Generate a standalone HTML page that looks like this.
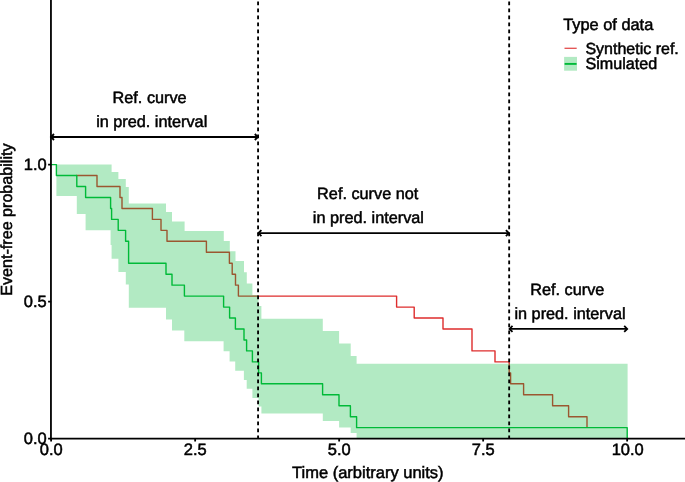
<!DOCTYPE html>
<html><head><meta charset="utf-8"><title>Chart</title>
<style>
html,body{margin:0;padding:0;background:#fff;}
svg{display:block;will-change:transform;}
svg{font-size:16px;}
text{font-family:"Liberation Sans",sans-serif;fill:#000;stroke:#000;stroke-width:0.5px;text-rendering:geometricPrecision;}
</style></head><body>
<svg width="685" height="482" viewBox="0 0 685 482">
<rect x="0" y="0" width="685" height="482" fill="#ffffff"/>
<!-- red reference curve -->
<path d="M76.2,175.56H97V186.52H120V197.48H122V208.44H152.4V219.4H161V230.36H167V241.32H206.4V252.28H229.4V263.24H232.2V274.2H235.5V285.16H238.4V296.12H396.6V307.08H414.2V318.04H443V329.0H472V350.92H495V361.88H509.2V372.84H510.6V383.8H523.6V394.76H552.6V405.72H568.6V416.68H587V427.64" fill="none" stroke="#DE2D2D" stroke-width="1.4" stroke-linejoin="round"/>
<!-- ribbon -->
<path d="M56.4,164.6H111.6V172H118.4V179H125.8V187H128.8V203.6H166V212H172V221.4H184.6V231H223.8V241H229.8V251.2H235.5V261H244V272.2H246.8V283.4H252.4V295H258.5V306H261.4V318.8H322.8V331H339.1V343.6H350.7V356H356.6V363.7H627.6V438.6H356.6V433H350.7V427.6H339.1V421H322.8V413.5H261.4V406.4H258.5V398H252.4V388.8H246.7V380H243.9V370.8H235.2V361.5H229.6V351.2H223.6V341.2H184.3V330.4H172V319.6H166V307.8H128.8V284.5H125.8V272.1H118.4V258.7H111.6V245H110.6V230.3H85.6V214.1H76.8V196.0H56.4Z" fill="#00BA38" fill-opacity="0.3" stroke="none"/>
<!-- green simulated curve -->
<path d="M51.2,164.6H56.4V175.56H76.8V186.52H85.6V197.48H110.6V208.44H111.6V219.4H118.2V230.36H125.6V241.32H128.6V263.24H166V274.2H172V285.16H184.4V296.12H223.6V307.08H229.6V318.04H235.4V329.0H244V339.96H246.6V350.92H252.4V361.88H258.6V372.84H261.4V383.8H322.6V394.76H339V405.72H350.4V416.68H356.6V427.64H627.2V438.6" fill="none" stroke="#00BA38" stroke-width="1.4" stroke-linejoin="round"/>
<!-- dashed verticals -->
<g stroke="#000" stroke-width="1.85" stroke-dasharray="3.8 3.2" fill="none">
<path d="M258.07,-5.55V438.6"/>
<path d="M509.16,-5.55V438.6"/>
</g>
<!-- arrows -->
<g stroke="#000" stroke-width="1.8" fill="none" stroke-linejoin="miter">
<path d="M51.0,137.0H257.8" /><path d="M54.0,134.0L51.0,137.0L54.0,140.0" /><path d="M254.8,134.0L257.8,137.0L254.8,140.0" />
<path d="M258.4,233.05H508.9" /><path d="M261.4,230.05L258.4,233.05L261.4,236.05" /><path d="M505.9,230.05L508.9,233.05L505.9,236.05" />
<path d="M509.5,328.9H627.2" /><path d="M512.5,325.9L509.5,328.9L512.5,331.9" /><path d="M624.2,325.9L627.2,328.9L624.2,331.9" />
</g>
<!-- axes -->
<g stroke="#000" stroke-width="1.8" fill="none">
<path d="M50.95,0V439.4"/>
<path d="M50.1,438.58H685" stroke-width="1.7"/>
<path d="M48.1,164.6H51.2M48.1,301.6H51.2M48.1,438.6H51.2"/>
<path d="M51.1,438.6V441.5M195.15,438.6V441.5M339.15,438.6V441.5M483.15,438.6V441.5M627.15,438.6V441.5"/>
</g>
<!-- tick labels -->
<g text-anchor="end" font-size="16.5">
<text x="46.8" y="170.3">1.0</text>
<text x="46.8" y="307.3">0.5</text>
<text x="46.8" y="444.3">0.0</text>
</g>
<g text-anchor="middle">
<text x="51.2" y="455.4" font-size="16.5">0.0</text>
<text x="195.2" y="455.4" font-size="16.5">2.5</text>
<text x="339.2" y="455.4" font-size="16.5">5.0</text>
<text x="483.2" y="455.4" font-size="16.5">7.5</text>
<text x="627.7" y="455.4" font-size="16.5">10.0</text>
<text x="367.8" y="478.1" font-size="16.5">Time (arbitrary units)</text>
<text transform="translate(11.8,219.6) rotate(-90)" x="0" y="0" font-size="16.12">Event-free probability</text>
<text x="149.6" y="103.25" font-size="16.25">Ref. curve</text>
<text x="151.7" y="127.3" font-size="16.25">in pred. interval</text>
<text x="367.7" y="199.15" font-size="16.25">Ref. curve not</text>
<text x="368.4" y="222.9" font-size="16.25">in pred. interval</text>
<text x="567.3" y="295.15" font-size="16.25">Ref. curve</text>
<text x="570.0" y="318.9" font-size="16.25">in pred. interval</text>
</g>
<!-- legend -->
<text x="563.2" y="30.15" font-size="16.36">Type of data</text>
<path d="M564.5,48.25H576.7" stroke="#DE2D2D" stroke-width="1.1" fill="none"/>
<rect x="564.1" y="56.9" width="12.9" height="13.8" fill="#00BA38" fill-opacity="0.3"/>
<path d="M564.6,63.9H576.6" stroke="#00BA38" stroke-width="1.9" fill="none"/>
<text x="585.4" y="53.6">Synthetic ref.</text>
<text x="585.4" y="69.2" font-size="16.15">Simulated</text>
</svg>
</body></html>
